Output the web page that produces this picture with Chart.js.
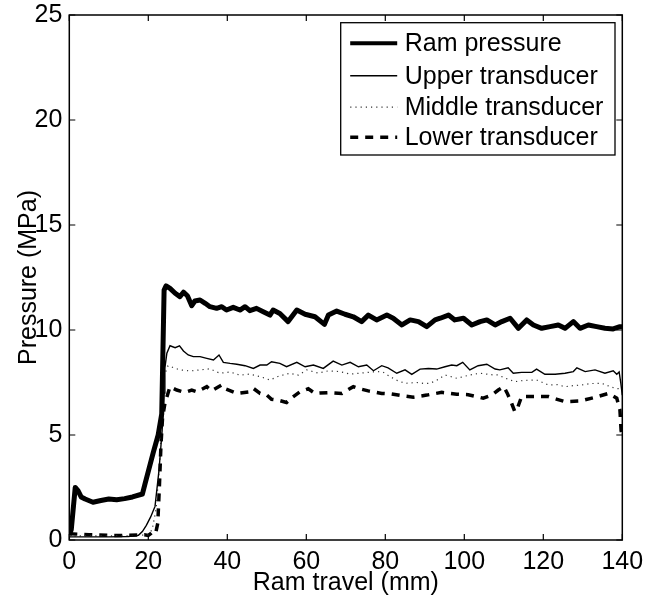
<!DOCTYPE html>
<html>
<head>
<meta charset="utf-8">
<script src="https://cdn.jsdelivr.net/npm/chart.js@4.4.1/dist/chart.umd.min.js"></script>
<style>
html,body{margin:0;padding:0;background:#fff;}
canvas{display:block;}
</style>
</head>
<body>
<canvas id="c" width="648" height="609"></canvas>
<script>
// ---- Data ----
const seriesLabels = ["Ram pressure", "Upper transducer", "Middle transducer", "Lower transducer"];
const xTicks = [0, 20, 40, 60, 80, 100, 120, 140];
const yTicks = [0, 5, 10, 15, 20, 25];

const ramX = [0, 0.5, 1.5, 2.2, 3, 4, 6, 8, 10, 12, 14, 16, 18.5, 19.2, 21.3, 22.5, 23.4, 24.0, 24.5, 25.5, 26.8, 28, 28.9, 29.9, 31, 31.8, 33.1, 34.4, 35.6, 37.3, 38.6, 39.8, 41.5, 43.2, 44.5, 45.7, 47.4, 49.1, 50.8, 51.6, 53.3, 55.4, 57.6, 59.7, 62.2, 64.6, 65.6, 67.7, 69.8, 71.9, 74, 75.7, 77.8, 79.5, 80.4, 82, 84.2, 86.3, 88.4, 90.5, 92.6, 93.9, 96, 97.6, 99.8, 101.9, 104, 105.7, 107.8, 109.5, 111.6, 113.7, 115.8, 117.5, 119.6, 121.7, 123.8, 125.5, 127.6, 129.3, 131.4, 133.5, 135.6, 137.7, 139.4, 140];
const ramY = [0.25, 0.5, 2.5, 2.35, 2.05, 1.95, 1.8, 1.88, 1.95, 1.92, 1.97, 2.05, 2.19, 2.7, 4.2, 5.0, 6.0, 11.9, 12.1, 11.98, 11.75, 11.59, 11.8, 11.63, 11.16, 11.38, 11.43, 11.27, 11.11, 11.03, 11.11, 10.95, 11.08, 10.95, 11.11, 10.92, 11.03, 10.87, 10.71, 10.95, 10.79, 10.4, 10.95, 10.75, 10.63, 10.27, 10.71, 10.9, 10.75, 10.63, 10.4, 10.71, 10.48, 10.63, 10.71, 10.56, 10.24, 10.48, 10.4, 10.16, 10.48, 10.56, 10.71, 10.48, 10.56, 10.24, 10.4, 10.48, 10.24, 10.4, 10.56, 10.08, 10.48, 10.24, 10.08, 10.16, 10.24, 10.08, 10.4, 10.08, 10.24, 10.16, 10.08, 10.05, 10.16, 10.15];

const upperX = [0, 5, 10, 15, 17.5, 18.5, 19.5, 20.6, 21.7, 22.7, 23.5, 24.0, 24.2, 24.7, 25.5, 26.8, 27.9, 28.9, 30.1, 31.4, 33.1, 34.8, 36.5, 37.9, 39, 40.7, 42.4, 44.5, 46.6, 48.3, 50, 51.2, 53.3, 55, 57.6, 59.7, 61.8, 64.3, 66.8, 69, 71.1, 73.2, 75.3, 77, 79.1, 80.7, 82.9, 85, 86.7, 88.8, 90.9, 93, 95.1, 96.8, 98.1, 99.6, 101.4, 103.5, 105.7, 107.8, 109, 111.1, 112.4, 114.5, 117.1, 118.3, 120.4, 123, 125.5, 127.6, 128.5, 130.6, 133.1, 135.6, 137.7, 138.6, 139.2, 139.6, 140];
const upperY = [0.15, 0.15, 0.15, 0.17, 0.22, 0.4, 0.7, 1.1, 1.6, 3.3, 5.2, 7.0, 8.2, 8.9, 9.25, 9.16, 9.25, 9.0, 8.81, 8.73, 8.73, 8.65, 8.57, 8.81, 8.46, 8.41, 8.37, 8.3, 8.17, 8.33, 8.33, 8.49, 8.41, 8.25, 8.46, 8.25, 8.33, 8.17, 8.52, 8.33, 8.46, 8.25, 8.33, 8.06, 8.3, 8.2, 7.94, 8.1, 7.89, 8.14, 8.17, 8.14, 8.25, 8.33, 8.3, 8.46, 8.1, 8.3, 8.37, 8.14, 8.1, 8.2, 7.94, 7.98, 7.98, 8.14, 7.89, 7.89, 7.94, 8.02, 8.2, 8.02, 8.1, 7.94, 8.06, 7.89, 8.0, 7.5, 6.9];

const middleX = [0, 5, 10, 15, 20, 21, 22, 23, 23.5, 24, 25, 28, 30.6, 33.1, 35.6, 38.1, 40.7, 43.2, 45.7, 48.3, 50.8, 53, 55.8, 58, 60.1, 63, 65.5, 68.5, 71, 74, 77.8, 79.4, 81.2, 83, 85, 87.9, 89.6, 91.3, 93, 95.1, 98.1, 101.4, 104, 107.3, 108.5, 110.5, 112.8, 115, 118.3, 121.3, 123.5, 125.5, 127.5, 129.7, 132, 134.8, 137, 138.2, 139.5, 140];
const middleY = [0.2, 0.2, 0.2, 0.2, 0.25, 0.5, 1.5, 4.0, 6.0, 7.8, 8.3, 8.1, 8.05, 8.1, 8.15, 7.94, 8.0, 7.85, 7.9, 7.78, 7.62, 7.8, 7.94, 7.85, 8.1, 7.95, 8.05, 8.02, 7.9, 7.95, 8.02, 8.0, 7.78, 7.6, 7.46, 7.5, 7.46, 7.46, 7.6, 7.86, 7.7, 7.86, 7.94, 7.86, 7.86, 7.7, 7.54, 7.6, 7.62, 7.38, 7.4, 7.3, 7.35, 7.38, 7.45, 7.46, 7.3, 7.22, 7.2, 7.1];

const lowerX = [0, 5, 10, 15, 19, 20, 20.6, 21.3, 21.9, 22.4, 22.8, 23.2, 23.6, 24.2, 25.5, 27.2, 29.3, 31, 32.3, 34.8, 36, 38.6, 39.2, 42.4, 45.7, 46.6, 48.3, 50, 51.2, 53, 55, 56.5, 58.4, 60.5, 62.2, 63.5, 65.6, 69, 71.9, 73.5, 75.7, 79.1, 81.6, 84.6, 87.1, 90.5, 94.3, 98.1, 101, 104.8, 107, 108.6, 110, 110.9, 112, 112.8, 113.5, 114.5, 117.9, 121.3, 123.5, 125.5, 129.3, 133.1, 136.5, 138.6, 139.4, 139.7, 140];
const lowerY = [0.3, 0.25, 0.22, 0.22, 0.25, 0.22, 0.3, 0.42, 0.35, 0.8, 2.5, 4.5, 5.8, 6.5, 7.3, 7.14, 7.03, 7.14, 7.06, 7.3, 7.1, 7.38, 7.22, 6.98, 7.06, 7.22, 6.98, 6.9, 6.7, 6.65, 6.55, 6.8, 7.06, 7.2, 6.98, 7.0, 7.02, 6.98, 7.3, 7.2, 7.1, 6.98, 6.95, 6.86, 6.8, 6.9, 7.03, 6.94, 6.92, 6.75, 6.9, 7.14, 7.3, 6.98, 6.5, 6.11, 6.3, 6.83, 6.83, 6.83, 6.7, 6.59, 6.62, 6.79, 6.98, 6.75, 6.19, 5.2, 5.0];

const toPts = (xs, ys) => xs.map((x, i) => ({x: x, y: ys[i]}));

const FONT = '"Liberation Sans", Arial, Helvetica, sans-serif';
const FS = 25;

const framePlugin = {
  id: 'frame',
  beforeDatasetsDraw(chart) {
    const {ctx, chartArea: a, scales: {x, y}} = chart;
    ctx.save();
    ctx.strokeStyle = '#000';
    ctx.lineWidth = 1.5;
    ctx.strokeRect(a.left, a.top, a.right - a.left, a.bottom - a.top);
    const L = 6;
    ctx.beginPath();
    x.ticks.forEach(t => {
      const px = x.getPixelForValue(t.value);
      ctx.moveTo(px, a.bottom); ctx.lineTo(px, a.bottom - L);
      ctx.moveTo(px, a.top); ctx.lineTo(px, a.top + L);
    });
    y.ticks.forEach(t => {
      const py = y.getPixelForValue(t.value);
      ctx.moveTo(a.left, py); ctx.lineTo(a.left + L, py);
      ctx.moveTo(a.right, py); ctx.lineTo(a.right - L, py);
    });
    ctx.lineWidth = 1.2;
    ctx.stroke();
    ctx.restore();
  }
};

const legendPlugin = {
  id: 'boxLegend',
  afterDatasetsDraw(chart) {
    const {ctx, chartArea: a} = chart;
    const right = a.right - 7.3, top = a.top + 7.7;
    const w = 274.3, h = 132.3;
    const left = right - w;
    ctx.save();
    ctx.fillStyle = '#fff';
    ctx.fillRect(left, top, w, h);
    ctx.strokeStyle = '#000';
    ctx.lineWidth = 1.3;
    ctx.strokeRect(left, top, w, h);
    const rows = [20.5, 53, 84.5, 114.5];
    chart.data.datasets.forEach((ds, i) => {
      const yy = top + rows[i];
      ctx.save();
      ctx.strokeStyle = ds.borderColor;
      ctx.lineWidth = Math.min(ds.borderWidth, 4);
      ctx.setLineDash(ds.borderDash || []);
      ctx.beginPath();
      ctx.moveTo(left + 9.5, yy);
      ctx.lineTo(left + 56.5, yy);
      ctx.stroke();
      ctx.restore();
      ctx.fillStyle = '#000';
      ctx.font = FS + 'px ' + FONT;
      ctx.textBaseline = 'middle';
      ctx.textAlign = 'left';
      ctx.fillText(ds.label, left + 64, yy + 1);
    });
    ctx.restore();
  }
};

new Chart(document.getElementById('c'), {
  type: 'line',
  data: {
    datasets: [
      {label: seriesLabels[0], data: toPts(ramX, ramY), borderColor: '#000', borderWidth: 5, pointRadius: 0, tension: 0, fill: false, borderJoinStyle: 'round'},
      {label: seriesLabels[1], data: toPts(upperX, upperY), borderColor: '#000', borderWidth: 1.4, pointRadius: 0, tension: 0, fill: false},
      {label: seriesLabels[2], data: toPts(middleX, middleY), borderColor: '#333', borderWidth: 1.2, borderDash: [1.2, 4], pointRadius: 0, tension: 0, fill: false},
      {label: seriesLabels[3], data: toPts(lowerX, lowerY), borderColor: '#000', borderWidth: 3.5, borderDash: [8, 7], pointRadius: 0, tension: 0, fill: false}
    ]
  },
  options: {
    responsive: false,
    animation: false,
    events: [],
    layout: {padding: {top: 15, right: 25.7, left: 0, bottom: 0}},
    plugins: {legend: {display: false}, tooltip: {enabled: false}},
    scales: {
      x: {
        type: 'linear', min: 0, max: 140,
        afterBuildTicks(s) { s.ticks = xTicks.map(v => ({value: v})); },
        ticks: {color: '#000', font: {family: FONT, size: FS}, padding: 7, maxRotation: 0, autoSkip: false},
        grid: {display: false, drawTicks: false},
        border: {display: false},
        title: {display: true, text: 'Ram travel (mm)', color: '#000', font: {family: FONT, size: FS, lineHeight: 1.2}, padding: {top: 0, bottom: 11}},
        afterFit(s) { s.height = 69; s.paddingLeft = 0; s.paddingRight = 0; }
      },
      y: {
        type: 'linear', min: 0, max: 25,
        afterBuildTicks(s) { s.ticks = yTicks.map(v => ({value: v})); },
        ticks: {color: '#000', font: {family: FONT, size: FS}, padding: 7, autoSkip: false},
        grid: {display: false, drawTicks: false},
        border: {display: false},
        title: {display: true, text: 'Pressure (MPa)', color: '#000', font: {family: FONT, size: FS, lineHeight: 1.2}, padding: {top: 14, bottom: 0}},
        afterFit(s) { s.width = 69.3; s.paddingTop = 0; s.paddingBottom = 0; }
      }
    }
  },
  plugins: [framePlugin, legendPlugin]
});
</script>
</body>
</html>
